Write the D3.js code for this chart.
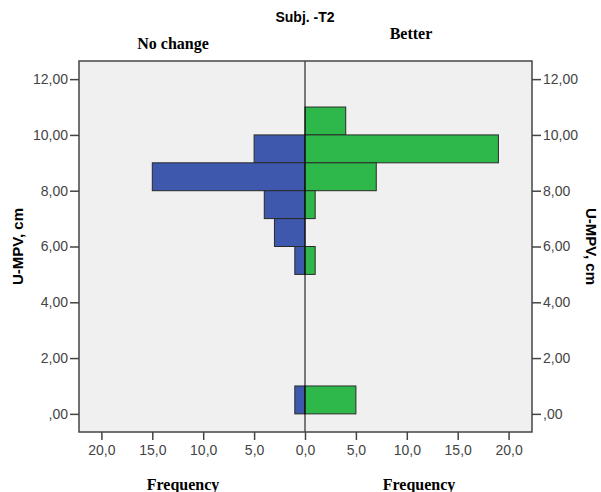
<!DOCTYPE html>
<html>
<head>
<meta charset="utf-8">
<script src="https://cdn.jsdelivr.net/npm/d3@7"></script>
<style>
  body { margin: 0; background: #fff; }
  .tick text { font-family: "Liberation Sans", Arial, sans-serif; font-size: 14px; fill: #444; }
  .serif { font-family: "Liberation Serif", "Times New Roman", serif; font-weight: bold; font-size: 16px; }
  .sansb { font-family: "Liberation Sans", Arial, sans-serif; font-weight: bold; }
</style>
</head>
<body>
<svg id="chart" width="601" height="492"></svg>
<script>
// bins of U-MPV (lower edge, width 1)
const binStart = [10, 9, 8, 7, 6, 5, 0];
const noChange = [0, 5, 15, 4, 3, 1, 1];
const better = [4, 19, 7, 1, 0, 1, 5];
const yTicks = [0, 2, 4, 6, 8, 10, 12];
const xTicks = [0, 5, 10, 15, 20];

const svg = d3.select("#chart");
const plot = { left: 79, right: 532, top: 61, bottom: 432 };
const mid = 305;

const y = d3.scaleLinear().domain([-0.65, 12.65]).range([plot.bottom, plot.top]);
const xL = d3.scaleLinear().domain([0, 22.2]).range([mid, plot.left]);
const xR = d3.scaleLinear().domain([0, 22.3]).range([mid, plot.right]);

const fmtY = d => d === 0 ? ",00" : d3.format(".2f")(d).replace(".", ",");
const fmtX = d => d3.format(".1f")(d).replace(".", ",");

// plot background
svg.append("rect")
  .attr("x", plot.left).attr("y", plot.top)
  .attr("width", plot.right - plot.left).attr("height", plot.bottom - plot.top)
  .attr("fill", "#f0f0f0");

const bars = binStart.map((b, i) => ({ b, l: noChange[i], r: better[i] }));

svg.selectAll(".bl").data(bars.filter(d => d.l > 0)).enter().append("rect")
  .attr("x", d => xL(d.l)).attr("width", d => mid - xL(d.l))
  .attr("y", d => y(d.b + 1)).attr("height", d => y(d.b) - y(d.b + 1))
  .attr("fill", "#3e58ad").attr("stroke", "#2a2a2a").attr("stroke-width", 1);

svg.selectAll(".br").data(bars.filter(d => d.r > 0)).enter().append("rect")
  .attr("x", mid).attr("width", d => xR(d.r) - mid)
  .attr("y", d => y(d.b + 1)).attr("height", d => y(d.b) - y(d.b + 1))
  .attr("fill", "#2fb84a").attr("stroke", "#2a2a2a").attr("stroke-width", 1);

// center line
svg.append("line").attr("x1", mid).attr("x2", mid)
  .attr("y1", plot.top).attr("y2", plot.bottom)
  .attr("stroke", "#000").attr("stroke-width", 1);

// frame
svg.append("rect")
  .attr("x", plot.left).attr("y", plot.top)
  .attr("width", plot.right - plot.left).attr("height", plot.bottom - plot.top)
  .attr("fill", "none").attr("stroke", "#444").attr("stroke-width", 1.5);

function styleAxis(g) {
  g.select(".domain").remove();
  g.selectAll(".tick line").attr("stroke", "#444").attr("stroke-width", 1.5);
}

svg.append("g").attr("transform", `translate(${plot.left},0)`)
  .call(d3.axisLeft(y).tickValues(yTicks).tickFormat(fmtY).tickSize(9).tickPadding(2))
  .call(styleAxis);
svg.append("g").attr("transform", `translate(${plot.right},0)`)
  .call(d3.axisRight(y).tickValues(yTicks).tickFormat(fmtY).tickSize(9).tickPadding(2))
  .call(styleAxis);
svg.append("g").attr("transform", `translate(0,${plot.bottom})`)
  .call(d3.axisBottom(xL).tickValues(xTicks).tickFormat(fmtX).tickSize(8).tickPadding(5))
  .call(styleAxis);
svg.append("g").attr("transform", `translate(0,${plot.bottom})`)
  .call(d3.axisBottom(xR).tickValues(xTicks.slice(1)).tickFormat(fmtX).tickSize(8).tickPadding(5))
  .call(styleAxis);

// titles
svg.append("text").attr("class", "sansb").attr("x", 305).attr("y", 22).attr("text-anchor", "middle")
  .style("font-size", "14px").text("Subj. -T2");
svg.append("text").attr("class", "serif").attr("x", 173).attr("y", 49).attr("text-anchor", "middle").text("No change");
svg.append("text").attr("class", "serif").attr("x", 411).attr("y", 39).attr("text-anchor", "middle").text("Better");
svg.append("text").attr("class", "serif").attr("x", 183).attr("y", 490).attr("text-anchor", "middle").text("Frequency");
svg.append("text").attr("class", "serif").attr("x", 419).attr("y", 490).attr("text-anchor", "middle").text("Frequency");

const yMid = (plot.top + plot.bottom) / 2;
svg.append("text").attr("class", "sansb").attr("transform", `translate(23,${yMid}) rotate(-90)`)
  .attr("text-anchor", "middle").style("font-size", "15px").text("U-MPV, cm");
svg.append("text").attr("class", "sansb").attr("transform", `translate(586,${yMid}) rotate(90)`)
  .attr("text-anchor", "middle").style("font-size", "15px").text("U-MPV, cm");
</script>
</body>
</html>
